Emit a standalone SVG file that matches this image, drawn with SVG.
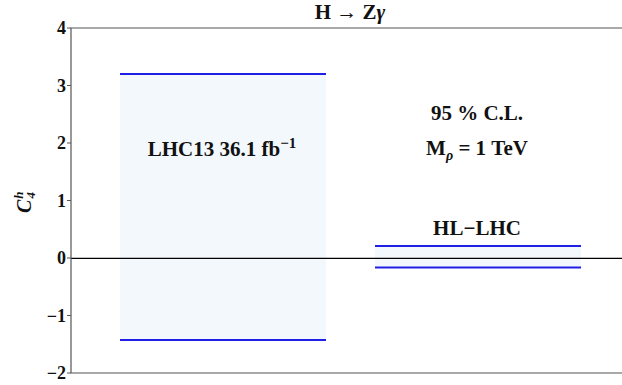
<svg xmlns="http://www.w3.org/2000/svg" width="622" height="385" viewBox="0 0 622 385">
<style>
.t{font-family:"Liberation Serif","DejaVu Serif",serif;font-weight:bold;font-size:21px;fill:#111}
.tick{font-family:"Liberation Serif","DejaVu Serif",serif;font-weight:bold;font-size:18px;fill:#111;text-anchor:end}
.band{fill:#f3f8fd}
.lim{stroke:#1f1fe8;stroke-width:2}
.ax{stroke:#555;stroke-width:1.2;fill:none}
</style>
<rect width="622" height="385" fill="#fff"/>
<g id="band-lhc13">
<rect class="band" x="120" y="74" width="206" height="266"/>
<line class="lim" x1="120" y1="74" x2="326" y2="74"/>
<line class="lim" x1="120" y1="340" x2="326" y2="340"/>
<text class="t" x="222" y="156" text-anchor="middle">LHC13 36.1 fb<tspan dy="-8" font-size="15">−1</tspan></text>
</g>
<g id="band-hllhc">
<rect class="band" x="375" y="246" width="206" height="21"/>
<line class="lim" x1="375" y1="246" x2="581" y2="246"/>
<line class="lim" x1="375" y1="267.5" x2="581" y2="267.5"/>
<text class="t" x="477" y="235" text-anchor="middle">HL−LHC</text>
</g>
<g id="connectors">
<line x1="71" y1="258.3" x2="622" y2="258.3" stroke="#000" stroke-width="1.2"/>
</g>
<g id="axes">
<path class="ax" d="M622 28 H71 V373 H622"/>
<path class="ax" d="M67 28H71M67 85.5H71M67 143H71M67 200.5H71M67 258H71M67 315.5H71M67 373H71"/>
<text class="tick" x="66" y="34">4</text>
<text class="tick" x="66" y="91.5">3</text>
<text class="tick" x="66" y="149">2</text>
<text class="tick" x="66" y="206.5">1</text>
<text class="tick" x="66" y="264">0</text>
<text class="tick" x="66" y="321.5">−1</text>
<text class="tick" x="66" y="379">−2</text>
</g>
<g id="title">
<text class="t" x="350" y="19" text-anchor="middle" font-size="16">H → Z<tspan font-style="italic">γ</tspan></text>
</g>
<g id="ylabel">
<text class="t" transform="translate(31,213) rotate(-90)" font-style="italic"><tspan font-size="20">C</tspan><tspan font-size="13" dx="1" dy="-8">h</tspan><tspan font-size="13" dx="-7" dy="12">4</tspan></text>
</g>
<g id="legend">
<text class="t" x="477" y="120" text-anchor="middle">95 % C.L.</text>
<text class="t" x="477" y="155" text-anchor="middle">M<tspan font-size="14" dy="5" font-style="italic">ρ</tspan><tspan dy="-5"> = 1 TeV</tspan></text>
</g>
</svg>
